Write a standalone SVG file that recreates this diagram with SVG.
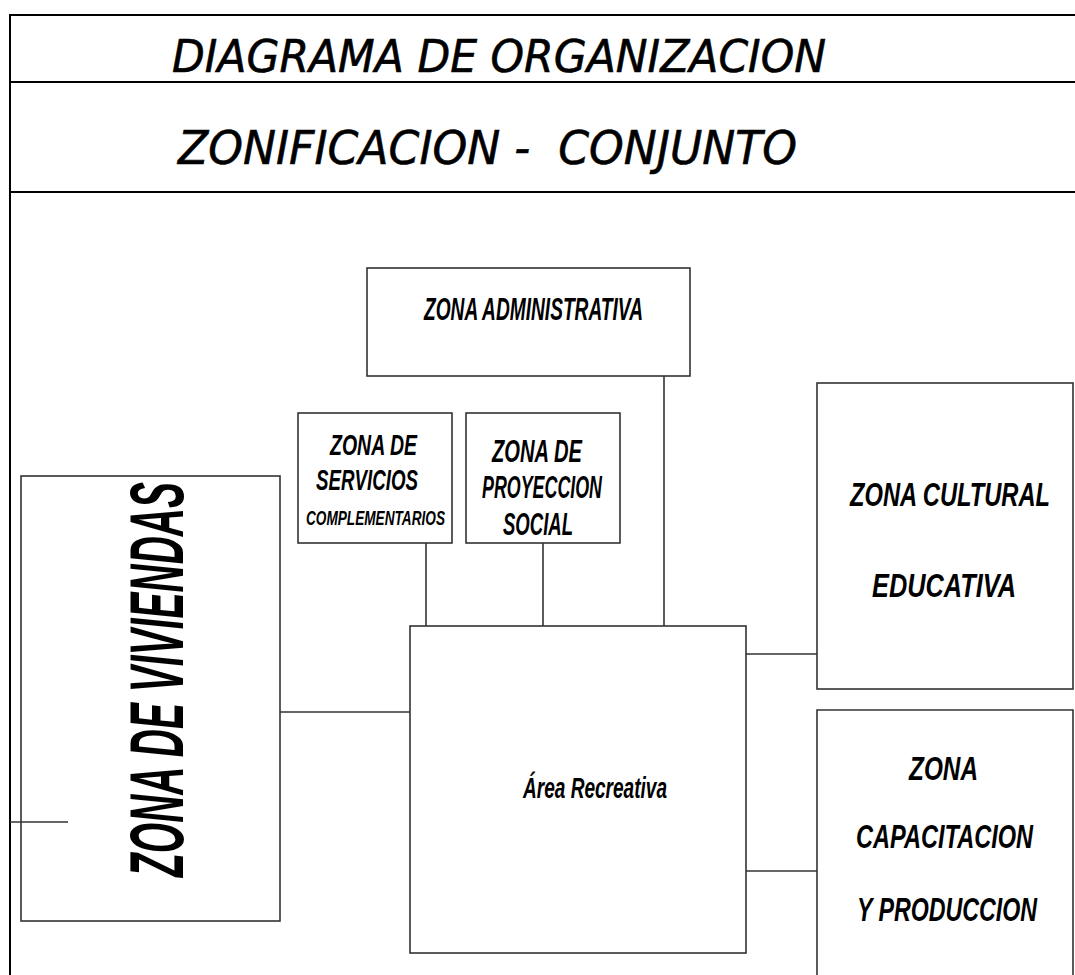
<svg xmlns="http://www.w3.org/2000/svg" width="1075" height="975" viewBox="0 0 1075 975">
<style>
.frame{fill:none;stroke:#000;stroke-width:2}
.box{fill:none;stroke:#333;stroke-width:1.6}
.conn{fill:none;stroke:#333;stroke-width:1.6}
.title{font-family:"DejaVu Sans",sans-serif;font-style:italic;fill:#000;stroke:#000;stroke-width:0.6;white-space:pre}
.lbl{font-family:"Liberation Sans Narrow","Liberation Sans",sans-serif;font-style:italic;font-weight:bold;fill:#000}
</style>
<rect width="1075" height="975" fill="#fff"/>
<g id="frame">
<path class="frame" d="M1080,15 H10 V980"/>
<line class="frame" x1="10" y1="82" x2="1080" y2="82"/>
<line class="frame" x1="10" y1="192" x2="1080" y2="192"/>
<text class="title" x="172" y="72" font-size="44" textLength="654" lengthAdjust="spacingAndGlyphs">DIAGRAMA DE ORGANIZACION</text>
<text class="title" x="178" y="164" font-size="46" textLength="619" lengthAdjust="spacingAndGlyphs" xml:space="preserve">ZONIFICACION -  CONJUNTO</text>
</g>
<g id="connectors">
<line class="conn" x1="280" y1="712" x2="410" y2="712"/>
<line class="conn" x1="426" y1="543" x2="426" y2="626"/>
<line class="conn" x1="543" y1="543" x2="543" y2="626"/>
<line class="conn" x1="664" y1="376" x2="664" y2="626"/>
<line class="conn" x1="746" y1="654" x2="817" y2="654"/>
<line class="conn" x1="746" y1="871" x2="817" y2="871"/>
<line class="conn" x1="10" y1="822" x2="68" y2="822"/>
</g>
<g id="zona-administrativa">
<rect class="box" x="367" y="268" width="323" height="108"/>
<text class="lbl" x="424" y="320" font-size="31" textLength="219" lengthAdjust="spacingAndGlyphs">ZONA ADMINISTRATIVA</text>
</g>
<g id="zona-servicios">
<rect class="box" x="298" y="413" width="154" height="130"/>
<text class="lbl" x="330" y="455" font-size="30" textLength="87" lengthAdjust="spacingAndGlyphs">ZONA DE</text>
<text class="lbl" x="316" y="490" font-size="30" textLength="102" lengthAdjust="spacingAndGlyphs">SERVICIOS</text>
<text class="lbl" x="306" y="525" font-size="21" textLength="139" lengthAdjust="spacingAndGlyphs">COMPLEMENTARIOS</text>
</g>
<g id="zona-proyeccion">
<rect class="box" x="466" y="413" width="154" height="130"/>
<text class="lbl" x="492" y="462" font-size="32" textLength="90" lengthAdjust="spacingAndGlyphs">ZONA DE</text>
<text class="lbl" x="482" y="498" font-size="32" textLength="120" lengthAdjust="spacingAndGlyphs">PROYECCION</text>
<text class="lbl" x="503" y="535" font-size="32" textLength="70" lengthAdjust="spacingAndGlyphs">SOCIAL</text>
</g>
<g id="zona-viviendas">
<rect class="box" x="21" y="476" width="259" height="445"/>
<text class="lbl" transform="translate(183,877) rotate(-90)" x="0" y="0" font-size="76" textLength="395" lengthAdjust="spacingAndGlyphs">ZONA DE VIVIENDAS</text>
</g>
<g id="area-recreativa">
<rect class="box" x="410" y="626" width="336" height="327"/>
<text class="lbl" x="523" y="798" font-size="30" textLength="144" lengthAdjust="spacingAndGlyphs">Área Recreativa</text>
</g>
<g id="zona-cultural">
<rect class="box" x="817" y="383" width="256" height="306"/>
<text class="lbl" x="850" y="506" font-size="33" textLength="200" lengthAdjust="spacingAndGlyphs">ZONA CULTURAL</text>
<text class="lbl" x="872" y="597" font-size="33" textLength="144" lengthAdjust="spacingAndGlyphs">EDUCATIVA</text>
</g>
<g id="zona-capacitacion">
<path class="box" d="M817,980 V710 H1073 V980"/>
<text class="lbl" x="909" y="780" font-size="34" textLength="69" lengthAdjust="spacingAndGlyphs">ZONA</text>
<text class="lbl" x="856" y="848" font-size="34" textLength="177" lengthAdjust="spacingAndGlyphs">CAPACITACION</text>
<text class="lbl" x="857" y="921" font-size="34" textLength="180" lengthAdjust="spacingAndGlyphs">Y PRODUCCION</text>
</g>
</svg>
